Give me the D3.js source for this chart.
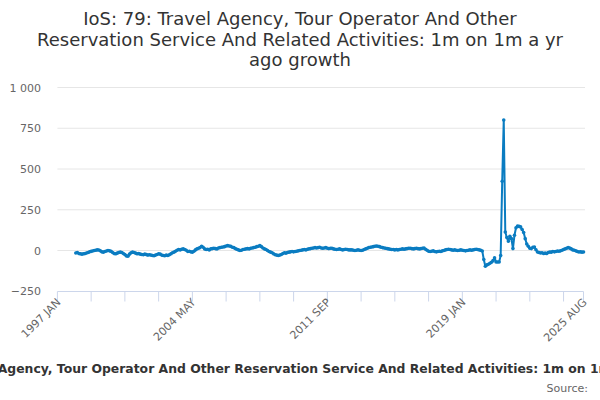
<!DOCTYPE html>
<html><head><meta charset="utf-8">
<script src="https://cdn.jsdelivr.net/npm/d3@7"></script>
<style>
body{margin:0;background:#fff;}
svg{display:block;font-family:"DejaVu Sans",sans-serif;}
</style></head>
<body><svg id="c" width="600" height="400"></svg>
<script>
const startYear = 1997, endYear = 2025, endMonth = 8;
const monthNames = ["JAN","FEB","MAR","APR","MAY","JUN","JUL","AUG","SEP","OCT","NOV","DEC"];
const categories = [];
for (let y = startYear; y <= endYear; y++) {
  for (let m = 0; m < 12; m++) {
    if (y === endYear && m >= endMonth) break;
    categories.push(y + " " + monthNames[m]);
  }
}
const tickLabels = ["1997 JAN","2004 MAY","2011 SEP","2019 JAN","2025 AUG"];
const yTicks = [-250, 0, 250, 500, 750, 1000];

const values1997_2005 = [
  null,null,null,null,null,null,null,null,null,null,null,null,
  -15,-12,-18,-20,-22,-20,-18,-15,-12,-8,-5,-3,
  0,2,4,3,-2,-8,-10,-6,-3,0,-2,-5,
  -12,-18,-20,-16,-12,-10,-12,-18,-25,-33,-35,-22,
  -14,-10,-12,-16,-20,-18,-22,-24,-26,-22,-25,-28,
  -26,-28,-30,-32,-28,-24,-20,-22,-28,-30,-32,-28,
  -30,-26,-20,-14,-10,-4,2,6,4,8,10,6,
  2,-6,-4,-8,-10,-4,4,10,14,18,26,20,
  10,6,8,4,10,12,14,12,10,16,18,20
];
const values2006_2014 = [
  22,24,28,30,28,26,20,18,12,8,4,0,
  2,6,8,10,12,10,14,16,18,20,24,26,
  30,24,16,10,6,0,-6,-10,-14,-20,-26,-28,
  -30,-28,-24,-18,-14,-16,-12,-10,-8,-6,-8,-6,
  -4,-2,0,2,4,6,4,8,10,12,14,16,
  18,16,18,20,16,14,16,18,14,12,14,14,
  10,8,6,8,10,6,4,6,8,6,4,4,
  4,2,0,2,4,2,0,2,6,10,14,18,
  20,22,24,26,28,26,24,20,18,16,14,12
];
const values2015_2025 = [
  10,8,6,6,4,6,4,6,8,10,8,10,
  12,14,14,12,10,12,14,12,10,12,14,16,
  8,2,-4,-6,-4,-2,-6,-8,-6,-4,-6,-2,
  0,4,6,8,6,4,2,4,2,0,2,4,
  2,0,-2,0,2,4,2,4,6,8,6,4,
  2,-3,-55,-96,-88,-84,-78,-72,-62,-45,-70,-70,
  -70,-30,425,800,114,80,57,88,73,12,94,140,
  150,148,145,129,110,73,40,26,14,12,20,22,
  5,-9,-12,-15,-14,-18,-16,-18,-12,-9,-10,-6,
  -8,-6,-3,-4,-2,2,6,10,14,18,15,10,
  4,2,-2,-6,-9,-8,-10,-9
];
const values = values1997_2005.concat(values2006_2014, values2015_2025);
const data = categories.map((c, i) => ({c, v: values[i]}));

const titleLines = ["IoS: 79: Travel Agency, Tour Operator And Other",
  "Reservation Service And Related Activities: 1m on 1m a yr",
  "ago growth"];
const seriesName = "IoS: 79: Travel Agency, Tour Operator And Other Reservation Service And Related Activities: 1m on 1m a yr ago growth";

const svg = d3.select("#c");
const color = "#0a7cc1";
const x = d3.scalePoint().domain(categories).range([57.4, 583.5]);
const y = d3.scaleLinear().domain([-250, 1000]).range([291.3, 87.5]);

// title
svg.append("text").attr("x", 300).attr("y", 25).attr("text-anchor", "middle")
  .attr("font-size", 18).attr("fill", "#333")
  .selectAll("tspan").data(titleLines).join("tspan")
  .attr("x", 300).attr("dy", (d, i) => i ? 20.5 : 0).text(d => d);

// grid
svg.append("g").selectAll("line").data(yTicks.filter(t => t !== -250)).join("line")
  .attr("x1", 57.4).attr("x2", 585).attr("y1", d => y(d)).attr("y2", d => y(d))
  .attr("stroke", "#e6e6e6").attr("stroke-width", 1);

// y labels
svg.append("g").selectAll("text").data(yTicks).join("text")
  .attr("x", 41).attr("y", d => y(d) + 4).attr("text-anchor", "end")
  .attr("font-size", 11).attr("fill", "#666")
  .text(d => d3.format(",")(d).replace(/,/g, " "));

// x axis
const tickIdx = d3.range(0, categories.length, 22).concat([categories.length - 1]);
const xa = svg.append("g");
xa.append("line").attr("x1", 57.4).attr("x2", 583.5).attr("y1", 291.5).attr("y2", 291.5)
  .attr("stroke", "#ccd6eb");
xa.selectAll("line.t").data(tickIdx).join("line").attr("class", "t")
  .attr("x1", i => x(categories[i])).attr("x2", i => x(categories[i]))
  .attr("y1", 291.5).attr("y2", 301.5).attr("stroke", "#ccd6eb");
xa.selectAll("text").data(tickLabels).join("text")
  .attr("transform", d => `translate(${x(d) + 4},${303}) rotate(-45)`)
  .attr("text-anchor", "end").attr("font-size", 11).attr("fill", "#666").text(d => d);

// line
const line = d3.line().defined(d => d.v != null).x(d => x(d.c)).y(d => y(d.v));
svg.append("path").datum(data).attr("d", line).attr("fill", "none")
  .attr("stroke", color).attr("stroke-width", 2).attr("stroke-linejoin", "round");
svg.append("g").selectAll("circle").data(data.filter(d => d.v != null)).join("circle")
  .attr("cx", d => x(d.c)).attr("cy", d => y(d.v)).attr("r", 1.8).attr("fill", color);

// legend
svg.append("text").attr("x", 310).attr("y", 373).attr("text-anchor", "middle")
  .attr("font-size", 12.4).attr("font-weight", "bold").attr("fill", "#333").text(seriesName);
svg.append("text").attr("x", 588).attr("y", 392).attr("text-anchor", "end")
  .attr("font-size", 11).attr("fill", "#666").text("Source:");
</script></body></html>
